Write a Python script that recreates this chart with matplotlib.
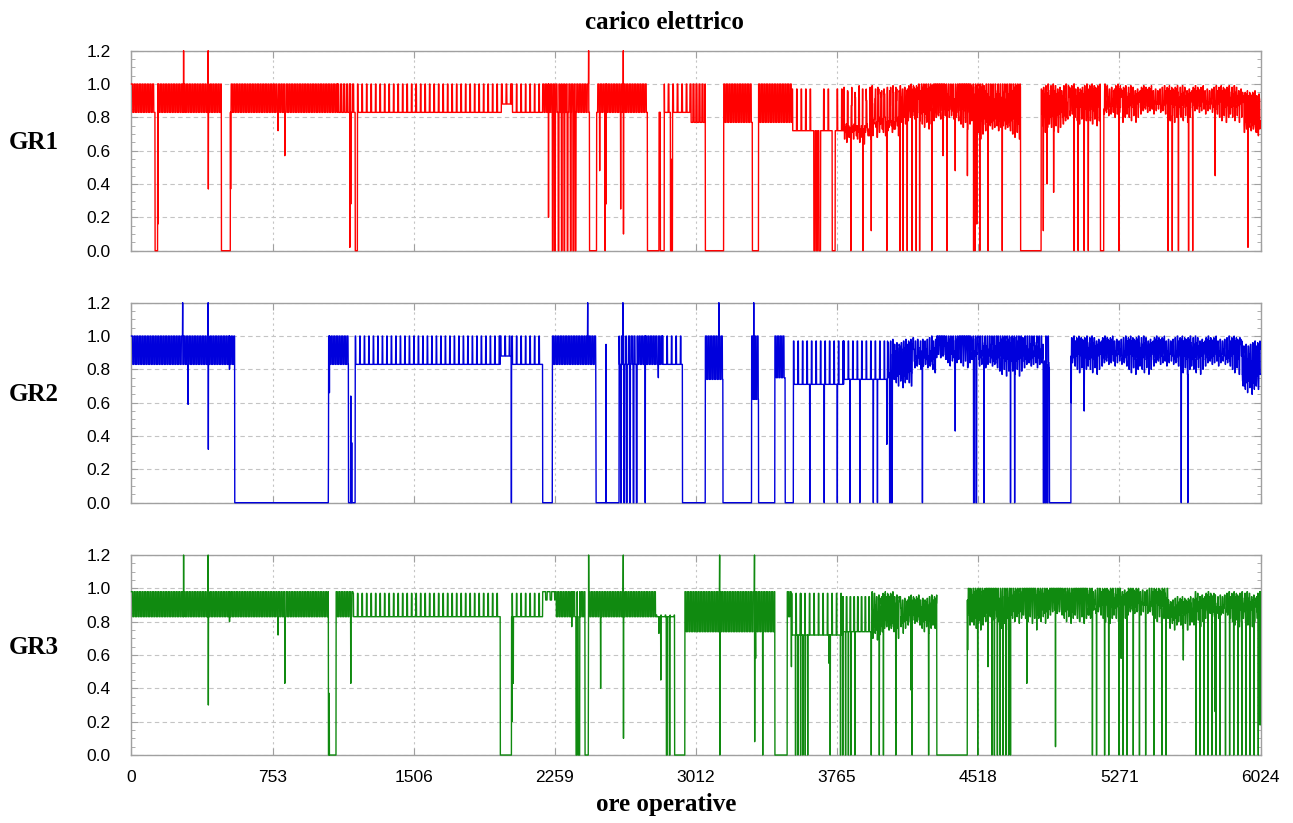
import numpy as np
import matplotlib
matplotlib.use("Agg")
import matplotlib.pyplot as plt
from matplotlib.ticker import MultipleLocator

plt.rcParams['font.family'] = ['Liberation Sans', 'DejaVu Sans']

HOURS = 6024
x_ticks = [0, 753, 1506, 2259, 3012, 3765, 4518, 5271, 6024]
units = ['GR1', 'GR2', 'GR3']
colors = ['#ff0000', '#0000dc', '#108a10']

# small load variations (applied every 3 h)
jitter = [0.0, -0.04, 0.02, -0.06, 0.01, -0.02, 0.03, -0.08, 0.0, -0.01, 0.02,
          -0.05, 0.01, -0.03, 0.0, -0.09, 0.02, -0.02, 0.01, -0.06, 0.03, -0.01, -0.04]

# ---- GR1 ----
# operating regimes: start hour, low level, high level, cycle length (h),
# hours per cycle at high level, noisy flag
gr1_seg_t = [0, 1100, 1206, 1975, 2030, 2194, 2780, 2840, 2980, 3160, 3346, 3525,
             3800, 3950, 4100, 4200, 4500, 4854, 5000, 5280, 5930]
gr1_seg_lo = [0.83, 0.83, 0.83, 0.88, 0.83, 0.83, 0.83, 0.83, 0.77, 0.77, 0.77, 0.72,
              0.73, 0.77, 0.82, 0.82, 0.76, 0.80, 0.84, 0.86, 0.75]
gr1_seg_hi = [1.0, 1.0, 1.0, 1.0, 1.0, 1.0, 1.0, 1.0, 1.0, 1.0, 1.0, 0.97,
              0.96, 0.96, 0.97, 1.0, 1.0, 0.97, 0.97, 0.96, 0.93]
gr1_seg_per = [14, 16, 24, 24, 24, 14, 14, 24, 16, 14, 14, 24, 20, 16, 12, 12, 12, 12, 12, 12, 12]
gr1_seg_on = [7, 6, 3, 4, 3, 7, 7, 4, 6, 7, 7, 3, 4, 6, 6, 7, 6, 6, 7, 7, 6]
gr1_seg_nz = [0, 0, 0, 0, 0, 0, 0, 0, 0, 0, 0, 0, 1, 1, 1, 1, 1, 1, 1, 1, 1]
gr1_off = [(126, 140), (480, 528), (1194, 1206), (2246, 2250), (2258, 2262), (2277, 2281),
           (2294, 2298), (2308, 2312), (2325, 2329), (2342, 2346), (2356, 2360),
           (2368, 2372), (2444, 2482), (2753, 2815), (2822, 2843), (2876, 2887),
           (3062, 3160), (3313, 3346), (3641, 3648), (3655, 3661), (3668, 3677),
           (3739, 3755), (4744, 4854), (5170, 5188)]
gr1_dip_t = [141, 410, 529, 782, 818, 1165, 1170, 2225, 2498, 2527, 2532, 2610, 2625,
             2820, 2884, 3838, 3903, 3947, 4030, 4100, 4117, 4139, 4165, 4187, 4205,
             4270, 4330, 4351, 4395, 4460, 4493, 4500, 4510, 4526, 4570, 4646, 4865,
             4885, 4920, 5029, 5051, 5083, 5105, 5268, 5531, 5553, 5586, 5640, 5662,
             5782, 5957]
gr1_dip_v = [0.16, 0.37, 0.37, 0.72, 0.57, 0.02, 0.28, 0.2, 0.48, 0.0, 0.28, 0.25, 0.1,
             0.6, 0.55, 0.0, 0.0, 0.12, 0.0, 0.0, 0.0, 0.0, 0.0, 0.0, 0.0,
             0.0, 0.57, 0.0, 0.48, 0.45, 0.0, 0.0, 0.16, 0.0, 0.0, 0.0, 0.12,
             0.4, 0.35, 0.0, 0.0, 0.0, 0.0, 0.0, 0.0, 0.0, 0.0, 0.0, 0.0,
             0.45, 0.02]
gr1_spike_t = [278, 409, 2439, 2624]

# ---- GR2 ----
gr2_seg_t = [0, 1051, 1194, 1968, 2030, 2246, 2741, 2833, 3062, 3309, 3433, 3532,
             3800, 4034, 4170, 4297, 4515, 5013, 5920]
gr2_seg_lo = [0.83, 0.83, 0.83, 0.88, 0.83, 0.83, 0.83, 0.83, 0.74, 0.62, 0.75, 0.71,
              0.74, 0.78, 0.84, 0.90, 0.85, 0.86, 0.74]
gr2_seg_hi = [1.0, 1.0, 1.0, 1.0, 1.0, 1.0, 1.0, 1.0, 1.0, 1.0, 1.0, 0.97,
              0.97, 0.95, 0.97, 1.0, 1.0, 0.97, 0.94]
gr2_seg_per = [14, 14, 24, 24, 24, 14, 14, 24, 14, 14, 14, 24, 24, 12, 12, 12, 12, 12, 12]
gr2_seg_on = [7, 7, 3, 4, 3, 7, 7, 3, 7, 7, 7, 3, 3, 6, 6, 7, 6, 7, 6]
gr2_seg_nz = [0, 0, 0, 0, 0, 0, 0, 0, 0, 0, 0, 0, 0, 1, 1, 1, 1, 1, 1]
gr2_off = [(551, 1051), (1158, 1194), (2194, 2246), (2479, 2598), (2598, 2602),
           (2610, 2614), (2627, 2631), (2641, 2645), (2658, 2662), (2677, 2681),
           (2694, 2698), (2940, 3062), (3156, 3309), (3346, 3433), (3488, 3532),
           (4045, 4049), (4055, 4060), (4493, 4497), (4506, 4510), (4865, 4869),
           (4874, 4878), (4884, 4890), (4898, 5013)]
gr2_dip_t = [302, 410, 523, 1051, 1056, 1170, 1175, 2027, 2478, 2532, 2741, 2811,
             3619, 3696, 3766, 3833, 3886, 3958, 3980, 4030, 4220, 4395, 4548, 4690,
             4712, 5014, 5083, 5601, 5636]
gr2_dip_v = [0.59, 0.32, 0.8, 0.3, 0.66, 0.64, 0.36, 0.0, 0.45, 0.95, 0.0, 0.75,
             0.0, 0.0, 0.0, 0.0, 0.0, 0.0, 0.0, 0.35, 0.0, 0.43, 0.0, 0.0,
             0.0, 0.6, 0.55, 0.0, 0.0]
gr2_spike_t = [273, 409, 2434, 2622, 3134, 3320]

# ---- GR3 ----
gr3_seg_t = [0, 1092, 1182, 2030, 2194, 2260, 2439, 2800, 2953, 3499, 3521, 3794,
             3950, 4100, 4465, 4690, 5127, 5531, 5673]
gr3_seg_lo = [0.83, 0.83, 0.83, 0.83, 0.93, 0.83, 0.83, 0.83, 0.74, 0.83, 0.72, 0.74,
              0.78, 0.82, 0.84, 0.88, 0.88, 0.84, 0.86]
gr3_seg_hi = [0.98, 0.98, 0.97, 0.97, 0.98, 0.98, 0.98, 0.84, 0.98, 0.98, 0.97, 0.95,
              0.95, 0.93, 1.0, 1.0, 0.98, 0.92, 0.95]
gr3_seg_per = [14, 14, 24, 24, 24, 14, 14, 24, 14, 14, 24, 20, 12, 12, 12, 12, 12, 12, 12]
gr3_seg_on = [7, 7, 3, 3, 16, 7, 7, 3, 7, 7, 3, 4, 6, 6, 6, 7, 7, 6, 7]
gr3_seg_nz = [0, 0, 0, 0, 0, 0, 0, 0, 0, 0, 0, 0, 1, 1, 1, 1, 1, 1, 1]
gr3_off = [(1051, 1092), (1968, 2028), (2372, 2378), (2384, 2392), (2420, 2438),
           (2855, 2859), (2870, 2874), (2898, 2953), (3433, 3499), (4297, 4460)]
gr3_dip_t = [410, 523, 782, 818, 1055, 1170, 2030, 2037, 2349, 2503, 2625, 2814,
             2824, 2854, 3139, 3325, 3330, 3368, 3521, 3543, 3556, 3570, 3582, 3595,
             3608, 3722, 3728, 3783, 3795, 3810, 3825, 3838, 3860, 3947, 3990, 4012,
             4078, 4159, 4165, 4253, 4461, 4515, 4570, 4591, 4604, 4620, 4635, 4650,
             4665, 4680, 4690, 4777, 4830, 4930, 5127, 5149, 5192, 5214, 5269, 5280,
             5290, 5312, 5345, 5378, 5411, 5455, 5498, 5520, 5612, 5679, 5701, 5723,
             5743, 5764, 5782, 5787, 5808, 5837, 5859, 5881, 5903, 5924, 5946, 5968,
             5990, 6012, 6022]
gr3_dip_v = [0.3, 0.8, 0.72, 0.43, 0.37, 0.43, 0.2, 0.43, 0.77, 0.4, 0.1, 0.73,
             0.45, 0.0, 0.0, 0.08, 0.58, 0.0, 0.53, 0.0, 0.0, 0.0, 0.0, 0.0,
             0.0, 0.55, 0.0, 0.0, 0.0, 0.0, 0.0, 0.0, 0.0, 0.0, 0.0, 0.0,
             0.0, 0.39, 0.0, 0.0, 0.63, 0.0, 0.53, 0.0, 0.0, 0.0, 0.0, 0.0,
             0.0, 0.0, 0.0, 0.43, 0.75, 0.05, 0.0, 0.0, 0.0, 0.0, 0.0, 0.58,
             0.0, 0.0, 0.0, 0.0, 0.0, 0.0, 0.0, 0.0, 0.57, 0.0, 0.0, 0.0,
             0.0, 0.0, 0.26, 0.0, 0.0, 0.0, 0.0, 0.0, 0.0, 0.0, 0.0, 0.0,
             0.0, 0.0, 0.18]
gr3_spike_t = [278, 409, 2439, 2624, 3138, 3324]


def build(seg_t, seg_lo, seg_hi, seg_per, seg_on, seg_nz, off, dip_t, dip_v, spike_t):
    h = np.arange(HOURS)
    y = np.zeros(HOURS)
    ends = seg_t[1:] + [HOURS]
    for t0, t1, lo, hi, per, on, nz in zip(seg_t, ends, seg_lo, seg_hi,
                                           seg_per, seg_on, seg_nz):
        idx = h[t0:t1]
        v = np.where((idx - t0) % per < on, hi, lo)
        if nz:
            v = np.minimum(v + np.array([jitter[k % len(jitter)] for k in idx // 3]), 1.0)
        y[t0:t1] = v
    for a, b in off:
        y[a:b] = 0.0
    for t, v in zip(dip_t, dip_v):
        y[t] = v
    for t in spike_t:
        y[t] = 1.2
    return h, np.clip(y, 0, 1.2)


series = [
    build(gr1_seg_t, gr1_seg_lo, gr1_seg_hi, gr1_seg_per, gr1_seg_on, gr1_seg_nz,
          gr1_off, gr1_dip_t, gr1_dip_v, gr1_spike_t),
    build(gr2_seg_t, gr2_seg_lo, gr2_seg_hi, gr2_seg_per, gr2_seg_on, gr2_seg_nz,
          gr2_off, gr2_dip_t, gr2_dip_v, gr2_spike_t),
    build(gr3_seg_t, gr3_seg_lo, gr3_seg_hi, gr3_seg_per, gr3_seg_on, gr3_seg_nz,
          gr3_off, gr3_dip_t, gr3_dip_v, gr3_spike_t),
]

fig = plt.figure(figsize=(12.93, 8.23), dpi=100)
bottoms = [0.6954, 0.3892, 0.0826]
serif = ['Liberation Serif', 'DejaVu Serif']

for i, (name, col, (hx, hy)) in enumerate(zip(units, colors, series)):
    ax = fig.add_axes([0.1017, bottoms[i], 0.8732, 0.2430])
    ax.plot(hx, hy, color=col, lw=1.0, clip_on=False, zorder=3)
    ax.set_xlim(0, HOURS)
    ax.set_ylim(0, 1.2)
    ax.set_xticks(x_ticks)
    ax.yaxis.set_major_locator(MultipleLocator(0.2))
    ax.yaxis.set_minor_locator(MultipleLocator(0.05))
    ax.yaxis.set_major_formatter(plt.FormatStrFormatter('%.1f'))
    ax.xaxis.grid(True, color='#c4c4c4', ls=(0, (2, 3)), lw=0.8)
    ax.yaxis.grid(True, color='#c4c4c4', ls=(0, (4, 3)), lw=0.8)
    ax.set_axisbelow(True)
    for s in ax.spines.values():
        s.set_color('#a0a0a0')
        s.set_linewidth(1.0)
    ax.tick_params(which='both', direction='in', color='#a0a0a0',
                   top=True, right=True, labelsize=12.5)
    ax.tick_params(which='major', length=5)
    ax.tick_params(which='minor', length=3)
    ax.tick_params(axis='y', pad=15)
    ax.tick_params(axis='x', pad=11)
    if i < 2:
        ax.set_xticklabels([])
    ax.text(-0.0864, 0.54, name, transform=ax.transAxes, ha='center', va='center',
            family=serif, fontweight='bold', fontsize=18)

fig.text(0.514, 0.973, 'carico elettrico', ha='center', va='center',
         family=serif, fontweight='bold', fontsize=18)
fig.text(0.515, 0.022, 'ore operative', ha='center', va='center',
         family=serif, fontweight='bold', fontsize=18)

fig.savefig('out.png', dpi=100)
